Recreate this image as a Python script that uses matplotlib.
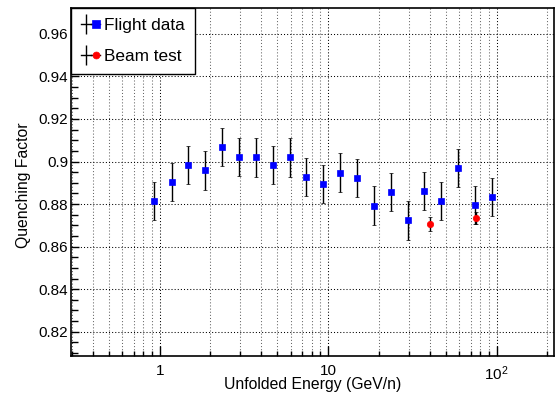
import matplotlib
matplotlib.use("Agg")
import matplotlib.pyplot as plt
from matplotlib.lines import Line2D
from matplotlib.legend_handler import HandlerTuple
from matplotlib.ticker import FixedLocator, FuncFormatter, LogLocator, MultipleLocator

plt.rcParams["font.family"] = ["Liberation Sans", "DejaVu Sans"]
plt.rcParams["mathtext.fontset"] = "custom"
plt.rcParams["mathtext.rm"] = "Liberation Sans"

# flight data (blue squares)
flight_energy = [0.929, 1.178, 1.478, 1.857, 2.343, 2.955, 3.713, 4.685, 5.908, 7.41,
                 9.35, 11.8, 14.8, 18.7, 23.5, 29.6, 37.2, 46.9, 59.2, 74.6, 94.2]
flight_qf = [0.8816, 0.8903, 0.8984, 0.8958, 0.9067, 0.9020, 0.9019, 0.8984, 0.9019, 0.8928,
             0.8896, 0.8948, 0.8921, 0.8793, 0.8856, 0.8723, 0.8860, 0.8816, 0.8968, 0.8796,
             0.8832]
flight_err = [0.009] * len(flight_qf)

# beam test (red circles)
beam_energy = [40.2, 75.4]
beam_qf = [0.8705, 0.8735]
beam_err = [0.0032, 0.003]

y_ticks = [0.82, 0.84, 0.86, 0.88, 0.90, 0.92, 0.94, 0.96]
y_tick_labels = ["0.82", "0.84", "0.86", "0.88", "0.9", "0.92", "0.94", "0.96"]
x_ticks = [1, 10, 100]
x_tick_labels = ["1", "10", r"$\mathregular{10^{2}}$"]

fig = plt.figure(figsize=(5.55, 3.99), dpi=100)
ax = fig.add_axes([0.128, 0.1085, 0.8702, 0.8715])

ax.errorbar(flight_energy, flight_qf, yerr=flight_err, fmt="s", color="blue",
            ms=5, mew=0.5, ecolor="black", elinewidth=1, capsize=1.4, capthick=1,
            zorder=3)
ax.errorbar(beam_energy, beam_qf, yerr=beam_err, fmt="o", color="red",
            ms=4.6, mew=0.5, ecolor="black", elinewidth=1, capsize=1.4, capthick=1,
            zorder=3)

ax.set_xscale("log")
ax.set_xlim(0.298, 219)
ax.set_ylim(0.8087, 0.9722)

ax.xaxis.set_major_locator(FixedLocator(x_ticks))
ax.xaxis.set_major_formatter(FuncFormatter(lambda v, p: x_tick_labels[x_ticks.index(round(v))]
                                           if round(v) in x_ticks else ""))
ax.xaxis.set_minor_locator(LogLocator(base=10, subs=range(2, 10), numticks=20))
ax.xaxis.set_minor_formatter(FuncFormatter(lambda v, p: ""))

ax.yaxis.set_major_locator(FixedLocator(y_ticks))
ax.set_yticklabels(y_tick_labels)
ax.yaxis.set_minor_locator(MultipleLocator(0.005))

ax.tick_params(axis="both", which="both", direction="in", labelsize=11, top=False, right=False)
ax.tick_params(axis="x", which="major", length=7.5, width=1, pad=6)
ax.tick_params(axis="x", which="minor", length=3.5, width=1)
ax.tick_params(axis="y", which="major", length=6, width=1, pad=2)
ax.tick_params(axis="y", which="minor", length=5, width=1)

grid_style = dict(color="black", linestyle=(0, (1, 2)), linewidth=0.75)
ax.grid(True, which="major", axis="both", **grid_style)
ax.grid(True, which="minor", axis="x", **dict(grid_style, color="0.4"))
ax.set_axisbelow(True)

for spine in ax.spines.values():
    spine.set_linewidth(1.2)

ax.set_xlabel("Unfolded Energy (GeV/n)", fontsize=11.3, va="center")
ax.xaxis.set_label_coords(0.5, -0.084)
ax.set_ylabel("Quenching Factor", fontsize=11.3, va="center")
ax.yaxis.set_label_coords(-0.099, 0.49)

flight_handle = (Line2D([], [], color="black", lw=1, marker="|", ms=15, mew=1),
                 Line2D([], [], color="black", lw=1, marker="s", ms=5.5, mfc="blue",
                        mec="blue", mew=0.5))
beam_handle = (Line2D([], [], color="black", lw=1, marker="|", ms=15, mew=1),
               Line2D([], [], color="black", lw=1, marker="o", ms=5, mfc="red",
                      mec="red", mew=0.5))
leg = ax.legend([flight_handle, beam_handle], ["Flight data", "Beam test"],
                handler_map={tuple: HandlerTuple(ndivide=None, pad=0)},
                loc="upper left", bbox_to_anchor=(0, 1), borderaxespad=0,
                fontsize=12.4, fancybox=False, framealpha=1, edgecolor="black",
                handlelength=1.1, handletextpad=0.2, borderpad=0.6,
                labelspacing=0.9)
leg.get_frame().set_linewidth(1)

fig.savefig("out.png", dpi=100)
